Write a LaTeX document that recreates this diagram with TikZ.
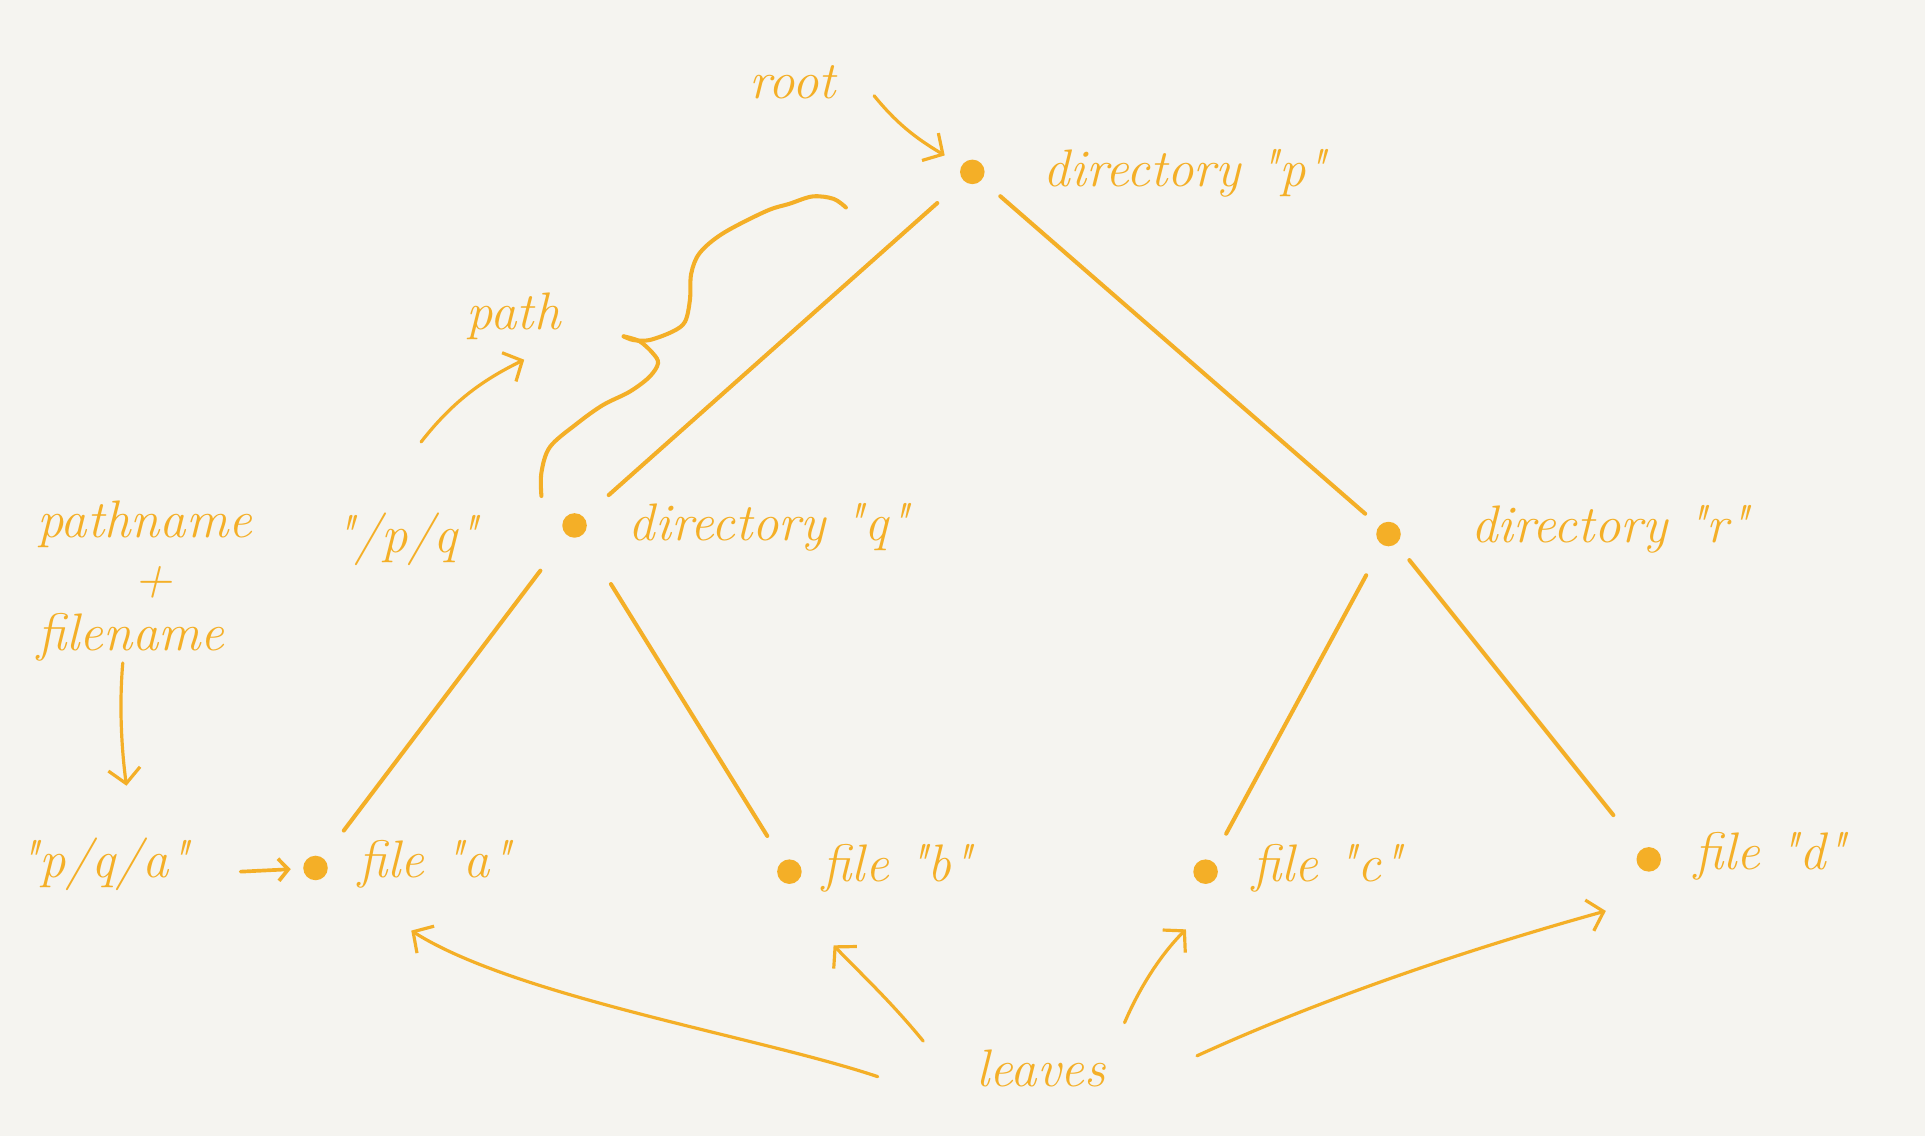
\documentclass[tikz,border=0pt]{standalone}
\usepackage{fontspec}
\usetikzlibrary{arrows.meta}
\definecolor{ink}{HTML}{F4AF27}
\definecolor{paper}{HTML}{F5F4F0}
\newcommand{\dq}{\textquotedbl}
\begin{document}
\begin{tikzpicture}[x=1pt,y=-1pt,
  dotnode/.style={circle,fill=ink,inner sep=0pt,minimum size=20pt},
  lbl/.style={text=ink,font=\fontsize{43}{48}\selectfont\itshape,inner sep=0pt},
  edgeline/.style={draw=ink,line width=3.3pt,line cap=round},
  annot/.style={draw=ink,line width=2.6pt,line cap=round,line join=round,
    -{Straight Barb[length=12pt,width=26pt]}},
  smallannot/.style={draw=ink,line width=3pt,line cap=round,line join=round,
    -{Straight Barb[length=8pt,width=18pt]}}
]
\fill[paper] (0,0) rectangle (1568,925);
\useasboundingbox (0,0) rectangle (1568,925);

% tree nodes
\node[dotnode] (p) at (792,140) {};
\node[dotnode] (q) at (468,428) {};
\node[dotnode] (r) at (1131,435) {};
\node[dotnode] (a) at (257,707) {};
\node[dotnode] (b) at (643,710) {};
\node[dotnode] (c) at (982,710) {};
\node[dotnode] (d) at (1343,700) {};

% labels
\node[lbl,anchor=base west] (lp) at (850,152) {directory \dq p\dq};
\node[lbl,anchor=base west] (lq) at (512,440) {directory \dq q\dq};
\node[lbl,anchor=base west] (lr) at (1198,442) {directory \dq r\dq};
\node[lbl,anchor=base west] (la) at (292,715) {file \dq a\dq};
\node[lbl,anchor=base west] (lb) at (670,718) {file \dq b\dq};
\node[lbl,anchor=base west] (lc) at (1020,718) {file \dq c\dq};
\node[lbl,anchor=base west] (ld) at (1380,708) {file \dq d\dq};
\node[lbl,anchor=base west] (root) at (610,80) {root};
\node[lbl,anchor=base west] (pathlbl) at (380,268) {path};
\node[lbl,anchor=base west] (pq) at (272,450) {\dq/p/q\dq};
\node[lbl,anchor=base west] (pn) at (30,438) {pathname};
\node[lbl] (plus) at (125,474) {+};
\node[lbl,anchor=base west] (fn) at (30,530) {filename};
\node[lbl,anchor=base west] (pqa) at (15,715) {\dq p/q/a\dq};
\node[lbl,anchor=base west] (leaves) at (795,885) {leaves};

% tree edges
\draw[edgeline,shorten <=28pt,shorten >=27pt] (p) -- (q);
\draw[edgeline,shorten <=20pt,shorten >=15pt] (p) -- (r);
\draw[edgeline,shorten <=36pt,shorten >=28pt] (q) -- (a);
\draw[edgeline,shorten <=46pt,shorten >=24pt] (q) -- (b);
\draw[edgeline,shorten <=28pt,shorten >=25pt] (r) -- (c);
\draw[edgeline,shorten <=17pt,shorten >=36pt] (r) -- (d);

% brace along the path p -> q
\draw[edgeline] plot[smooth,tension=0.55] coordinates {(689,169) (679,162) (662,160) (643,166) (624,172) (589,190) (570,206) (563,223) (562,244) (558,262) (548,270) (529,277) (516,277) (508,274)};
\draw[edgeline] plot[smooth,tension=0.55] coordinates {(508,274) (521,278) (532,288) (536,296) (529,307) (513,319) (491,330) (470,345) (448,364) (441,385) (441,404)};

% annotation arrows
\coordinate (roottail) at (712,78);
\draw[annot,shorten >=16pt] (roottail) .. controls (730,100) and (745,112) .. (p);

\coordinate (pathtail) at (343,360);
\coordinate (pathtip) at (427,293);
\draw[annot] (pathtail) .. controls (368,328) and (392,310) .. (pathtip);

\coordinate (fntail) at (100,540);
\coordinate (fntip) at (103,640);
\draw[annot] (fntail) .. controls (97,575) and (99,610) .. (fntip);

\coordinate (pqatail) at (196,710);
\draw[smallannot,shorten >=10pt] (pqatail) -- (a);

\coordinate (leavesA) at (715,877);
\coordinate (tipA) at (335,758);
\draw[annot] (leavesA) .. controls (620,845) and (420,812) .. (tipA);

\coordinate (leavesB) at (752,848);
\coordinate (tipB) at (679,770);
\draw[annot] (leavesB) .. controls (725,815) and (700,792) .. (tipB);

\coordinate (leavesC) at (916,833);
\coordinate (tipC) at (966,757);
\draw[annot] (leavesC) .. controls (928,805) and (945,778) .. (tipC);

\coordinate (leavesD) at (975,860);
\coordinate (tipD) at (1308,742);
\draw[annot] (leavesD) .. controls (1080,812) and (1200,772) .. (tipD);
\end{tikzpicture}
\end{document}
